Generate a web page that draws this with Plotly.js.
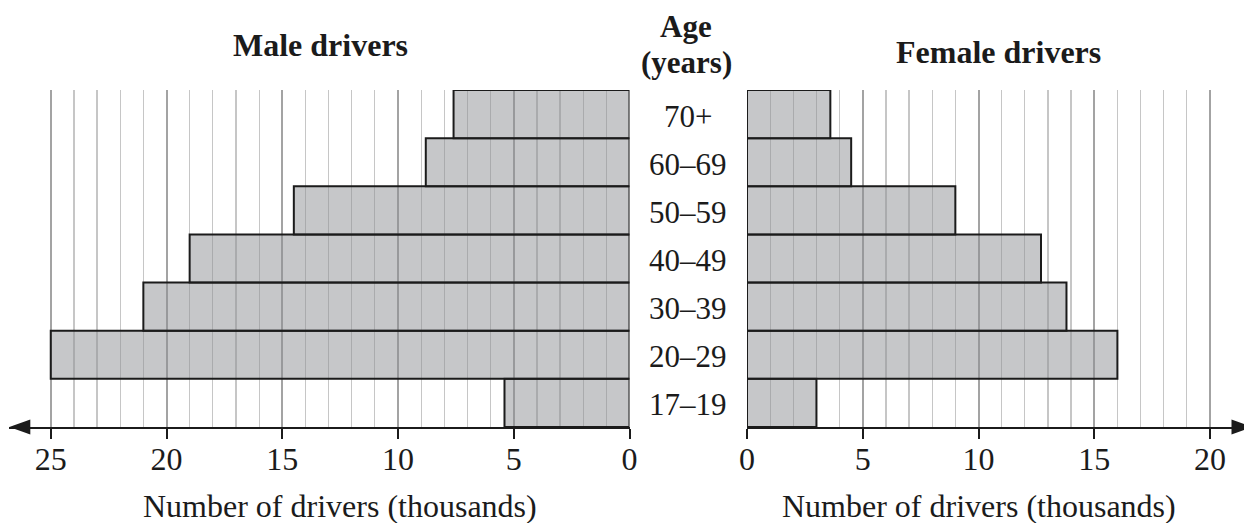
<!DOCTYPE html>
<html>
<head>
<meta charset="utf-8">
<script src="https://cdn.plot.ly/plotly-3.0.1.min.js"></script>
<style>html,body{margin:0;padding:0;background:#fff;}#chart{width:1244px;height:523px;}</style>
</head>
<body>
<div id="chart"></div>
<script>
// ---- data ----
const ages = ['17–19', '20–29', '30–39', '40–49', '50–59', '60–69', '70+'];
const maleDrivers = [5.4, 25, 21, 19, 14.5, 8.8, 7.6];
const femaleDrivers = [3, 16, 13.8, 12.7, 9, 4.5, 3.6];
const maleTicks = [0, 5, 10, 15, 20, 25];
const femaleTicks = [0, 5, 10, 15, 20];
const maleMinor = [0,1,2,3,4,5,6,7,8,9,10,11,12,13,14,15,16,17,18,19,20,21,22,23,24,25];
const femaleMinor = [0,1,2,3,4,5,6,7,8,9,10,11,12,13,14,15,16,17,18,19,20];
const axisTitle = 'Number of drivers (thousands)';

// ---- geometry / style ----
const W = 1244, H = 523, T = 90, B = 96;
const PX = 23.15;                 // pixels per thousand
const maleZero = 629.5, maleEnd = 9.3;
const femZero = 747, femEnd = W;
const px2x = p => p / W;
const py2y = p => (H - B - p) / (H - T - B);
const FONT = 'Liberation Serif, Times New Roman, serif';
const INK = '#1b1b1b';

function axis(domain, range, ticks, minor) {
  return {
    domain: domain, range: range, fixedrange: true,
    tickmode: 'array', tickvals: ticks, ticktext: ticks.map(String),
    ticks: 'outside', ticklen: 10, tickwidth: 2, tickcolor: INK,
    tickfont: {family: FONT, size: 32, color: INK},
    ticklabelstandoff: -7,
    showline: true, linecolor: INK, linewidth: 2,
    showgrid: true, gridcolor: '#a3a3a3', gridwidth: 2,
    zeroline: false,
    minor: {tickmode: 'array', tickvals: minor, showgrid: true,
            gridcolor: '#c6c6c6', gridwidth: 1.2, ticks: ''},
    anchor: 'y'
  };
}

const barStyle = {color: 'rgba(141,143,147,0.5)', line: {color: INK, width: 2}};

const traces = [
  {type: 'bar', orientation: 'h', y: ages, x: maleDrivers, xaxis: 'x', yaxis: 'y',
   marker: barStyle, hoverinfo: 'x+y'},
  {type: 'bar', orientation: 'h', y: ages, x: femaleDrivers, xaxis: 'x2', yaxis: 'y',
   marker: barStyle, hoverinfo: 'x+y'}
];

const annotations = [
  {text: '<b>Male drivers</b>', xref: 'paper', yref: 'paper', x: px2x(320), y: py2y(44.5),
   xanchor: 'center', yanchor: 'middle', showarrow: false, font: {family: FONT, size: 32, color: INK}},
  {text: '<b>Female drivers</b>', xref: 'paper', yref: 'paper', x: px2x(998), y: py2y(52),
   xanchor: 'center', yanchor: 'middle', showarrow: false, font: {family: FONT, size: 32, color: INK}},
  {text: '<b>Age</b>', xref: 'paper', yref: 'paper', x: px2x(686), y: py2y(26),
   xanchor: 'center', yanchor: 'middle', showarrow: false, font: {family: FONT, size: 31, color: INK}},
  {text: '<b>(years)</b>', xref: 'paper', yref: 'paper', x: px2x(686), y: py2y(62),
   xanchor: 'center', yanchor: 'middle', showarrow: false, font: {family: FONT, size: 31, color: INK}},
  {text: axisTitle, xref: 'x', yref: 'paper', x: (maleTicks[0] + maleTicks[maleTicks.length-1]) / 2, y: py2y(506),
   xanchor: 'center', yanchor: 'middle', showarrow: false, font: {family: FONT, size: 32, color: INK}},
  {text: axisTitle, xref: 'x2', yref: 'paper', x: (femaleTicks[0] + femaleTicks[femaleTicks.length-1]) / 2, y: py2y(506),
   xanchor: 'center', yanchor: 'middle', showarrow: false, font: {family: FONT, size: 32, color: INK}}
].concat(ages.map(a => ({
  text: a, xref: 'paper', yref: 'y', x: px2x(688), y: a, yshift: -2,
  xanchor: 'center', yanchor: 'middle', showarrow: false, font: {family: FONT, size: 31, color: INK}
})));

const axisY = H - B;
const shapes = [
  {type: 'path', xref: 'paper', yref: 'paper', fillcolor: INK, line: {width: 0},
   path: `M ${px2x(maleEnd)} ${py2y(axisY)} L ${px2x(maleEnd + 21)} ${py2y(axisY - 7.5)} L ${px2x(maleEnd + 21)} ${py2y(axisY + 7.5)} Z`},
  {type: 'path', xref: 'paper', yref: 'paper', fillcolor: INK, line: {width: 0},
   path: `M ${px2x(1252.5)} ${py2y(axisY)} L ${px2x(1231.5)} ${py2y(axisY - 7.5)} L ${px2x(1231.5)} ${py2y(axisY + 7.5)} Z`}
];

const layout = {
  width: W, height: H,
  margin: {l: 0, r: 0, t: T, b: B, pad: 0},
  paper_bgcolor: '#fff', plot_bgcolor: '#fff',
  showlegend: false, bargap: 0,
  xaxis: axis([px2x(maleEnd), px2x(maleZero)], [(maleZero - maleEnd) / PX, 0], maleTicks, maleMinor),
  xaxis2: axis([px2x(femZero), px2x(femEnd)], [0, (femEnd - femZero) / PX], femaleTicks, femaleMinor),
  yaxis: {visible: false, type: 'category', categoryorder: 'array', categoryarray: ages,
          range: [-0.5, ages.length - 0.5], fixedrange: true},
  annotations: annotations,
  shapes: shapes
};

Plotly.newPlot('chart', traces, layout, {displayModeBar: false, staticPlot: true});
</script>
</body>
</html>
